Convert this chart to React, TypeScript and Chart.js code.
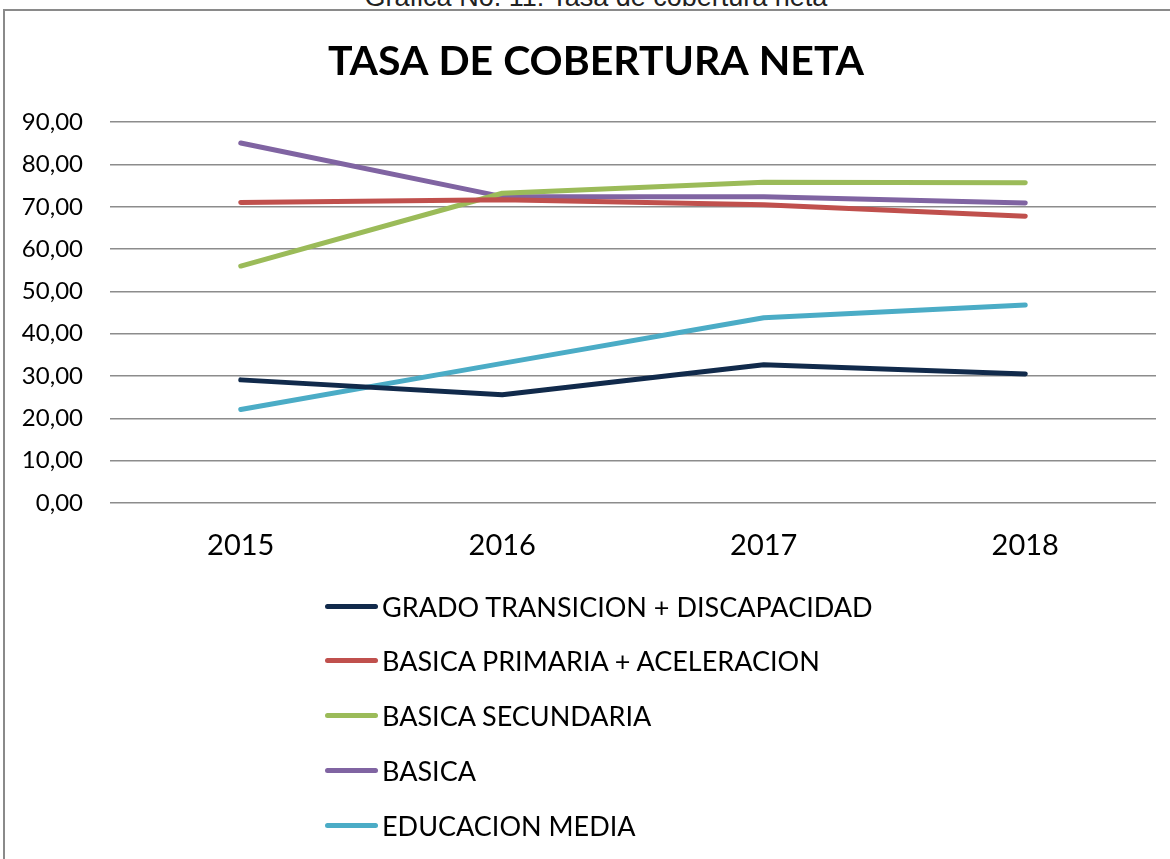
import React, { useEffect, useRef } from "react";
import { Chart, registerables } from "chart.js";

Chart.register(...registerables);

const years = ["2015", "2016", "2017", "2018"];
const seriesNames = [
  "GRADO TRANSICION + DISCAPACIDAD",
  "BASICA PRIMARIA + ACELERACION",
  "BASICA SECUNDARIA",
  "BASICA",
  "EDUCACION MEDIA",
];
const gradoTransicion = [29.1, 25.6, 32.7, 30.5];
const basicaPrimaria = [71.0, 71.7, 70.5, 67.8];
const basicaSecundaria = [56.0, 73.2, 75.8, 75.7];
const basica = [85.1, 72.4, 72.4, 70.9];
const educacionMedia = [22.1, 33.0, 43.8, 46.8];
const seriesColors = ["#112a4b", "#c0504d", "#9bbb59", "#8064a2", "#4bacc6"];
const yTicks = [0, 10, 20, 30, 40, 50, 60, 70, 80, 90];

const allSeries = [gradoTransicion, basicaPrimaria, basicaSecundaria, basica, educacionMedia];

const FONT = "Lato, 'Open Sans', sans-serif";

export default function App() {
  const canvasRef = useRef<HTMLCanvasElement | null>(null);

  useEffect(() => {
    if (!canvasRef.current) return;
    const chart = new Chart(canvasRef.current, {
      type: "line",
      data: {
        labels: years,
        datasets: allSeries.map((vals, i) => ({
          label: seriesNames[i],
          data: vals,
          borderColor: seriesColors[i],
          backgroundColor: seriesColors[i],
          borderWidth: 5,
          pointRadius: 0,
          pointHoverRadius: 0,
          tension: 0,
          borderCapStyle: "round" as const,
          borderJoinStyle: "round" as const,
          fill: false,
          yAxisID: "y",
        })),
      },
      options: {
        animation: false,
        responsive: false,
        maintainAspectRatio: false,
        layout: { padding: 0 },
        plugins: {
          legend: { display: false },
          tooltip: { enabled: false },
          title: {
            display: true,
            text: "TASA DE COBERTURA NETA",
            color: "#000",
            font: { family: FONT, size: 41, weight: "bold", lineHeight: 1.2 },
            padding: { top: 25, bottom: 36 },
          },
        },
        scales: {
          x: {
            type: "category",
            offset: true,
            grid: { display: false, drawTicks: false },
            border: { display: false },
            ticks: {
              color: "#000",
              font: { family: FONT, size: 29 },
              padding: 25,
              maxRotation: 0,
            },
            afterFit: (scale: any) => {
              scale.height = 359;
            },
          },
          y: {
            position: "left",
            min: 0,
            max: 90,
            afterBuildTicks: (scale: any) => {
              scale.ticks = yTicks.map((v) => ({ value: v }));
            },
            grid: { color: "#8c8c8c", lineWidth: 1.5, drawTicks: false },
            border: { display: false },
            ticks: {
              color: "#000",
              font: { family: FONT, size: 24 },
              padding: 27,
              callback: (v: any) => Number(v).toFixed(2).replace(".", ","),
            },
            afterFit: (scale: any) => {
              scale.width = 105;
            },
          },
          yRight: {
            position: "right",
            display: true,
            min: 0,
            max: 90,
            grid: { display: false, drawTicks: false },
            border: { display: false },
            ticks: { display: false },
            afterFit: (scale: any) => {
              scale.width = 31;
            },
          },
        },
      },
    });
    return () => chart.destroy();
  }, []);

  return (
    <div
      style={{
        position: "absolute",
        left: 0,
        top: 0,
        width: 1170,
        height: 859,
        overflow: "hidden",
        background: "#fff",
      }}
    >
      <div
        style={{
          position: "absolute",
          left: 0,
          top: -16,
          width: 1192,
          textAlign: "center",
          fontFamily: "'Liberation Sans', Arial, sans-serif",
          fontSize: 27,
          lineHeight: "26px",
          color: "#222",
          whiteSpace: "nowrap",
        }}
      >
        Gráfica No. 11: Tasa de cobertura neta
      </div>
      <div
        style={{
          position: "absolute",
          left: 3,
          top: 9,
          width: 1200,
          height: 900,
          borderLeft: "2px solid #8a8a8a",
          borderTop: "2px solid #8a8a8a",
        }}
      />
      <canvas
        ref={canvasRef}
        width={1182}
        height={850}
        style={{ position: "absolute", left: 5, top: 12, width: 1182, height: 850 }}
      />
      <div style={{ position: "absolute", left: 325, top: 0 }}>
        {seriesNames.map((name, i) => (
          <div
            key={name}
            style={{
              position: "absolute",
              left: 0,
              top: 606 + i * 54.75 - 20,
              height: 40,
              display: "flex",
              alignItems: "center",
              whiteSpace: "nowrap",
            }}
          >
            <div
              style={{
                width: 53,
                height: 5,
                borderRadius: 3,
                background: seriesColors[i],
                marginRight: 4,
              }}
            />
            <span style={{ fontFamily: FONT, fontSize: 27, color: "#000" }}>{name}</span>
          </div>
        ))}
      </div>
    </div>
  );
}
